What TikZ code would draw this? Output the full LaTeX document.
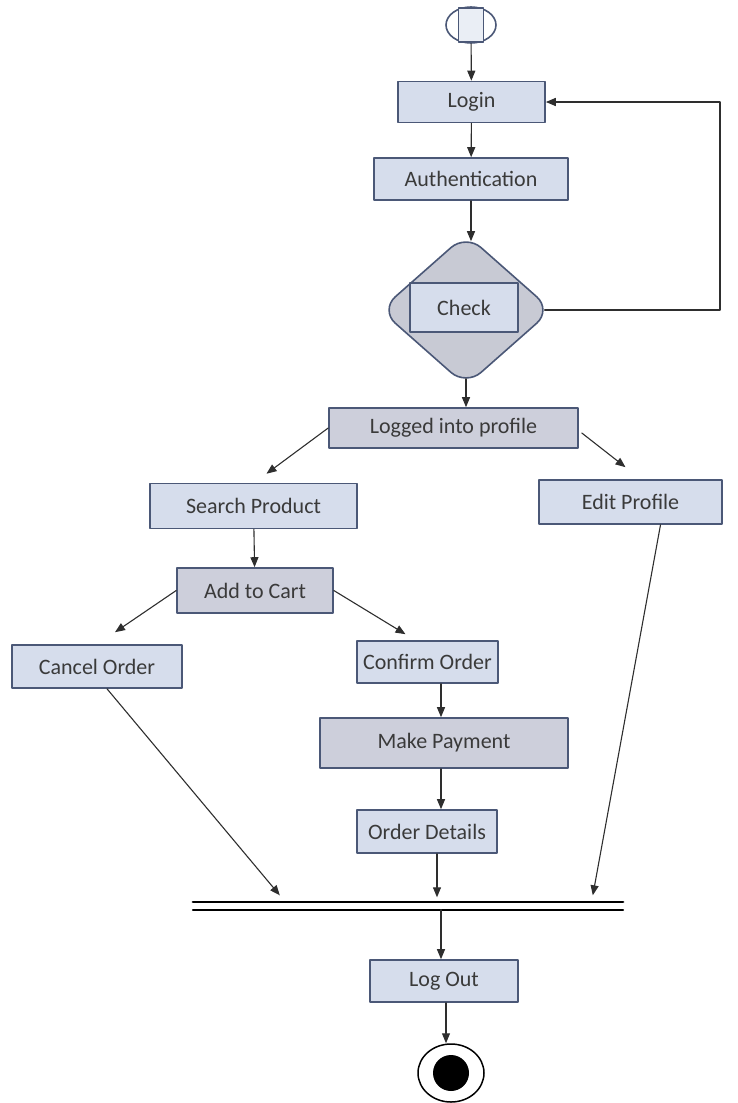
\documentclass[tikz,border=0pt]{standalone}
\usepackage{fontspec}
\setmainfont{Carlito}
\usetikzlibrary{arrows.meta}
\usetikzlibrary{shapes.geometric}
\usetikzlibrary{calc}
\definecolor{boxline}{HTML}{4B5877}
\definecolor{boxfill}{HTML}{D6DDEC}
\definecolor{grayfill}{HTML}{CDCFDB}
\definecolor{diafill}{HTML}{C8CAD4}
\definecolor{txt}{HTML}{3A3A3A}
\definecolor{wire}{HTML}{2E2E2E}

\begin{document}
\begin{tikzpicture}[line cap=round,line join=round,>={Triangle[length=10pt,width=8pt]},x=1pt,y=-1pt,
  act/.style={draw=boxline,line width=1.6pt,fill=boxfill,inner sep=0pt,text=txt,font=\fontsize{22}{26}\selectfont},
  actgray/.style={act,fill=grayfill},
  flow/.style={->,draw=wire,line width=1.1pt}]
\useasboundingbox (0,0) rectangle (738,1103);
% start
\node [ellipse,draw=boxline,line width=1.6pt,fill=white,minimum width=50,minimum height=36,inner sep=0pt] (start) at (471,25) {};
\node [draw=boxline,line width=1.4pt,fill=boxfill!50,minimum width=25,minimum height=34,inner sep=0pt] (startsq) at (471,25) {};
% activities
\node [act,minimum width=147,minimum height=41] (login) at (471.5,102) {Login};
\node [act,minimum width=194,minimum height=42] (auth) at (471,179) {Authentication};
\node [diamond,draw=boxline,line width=1.6pt,fill=diafill,rounded corners=20pt,minimum width=172,minimum height=152,inner sep=0pt] (check) at (466,310) {};
\node [act,minimum width=108,minimum height=49] (checkbox) at (464,307.5) {Check};
\node [actgray,minimum width=249,minimum height=40] (logged) at (453.5,428) {Logged into profile};
\node [act,minimum width=207,minimum height=45] (search) at (253.5,506) {Search Product};
\node [act,minimum width=183,minimum height=44] (edit) at (630.5,502) {Edit Profile};
\node [actgray,minimum width=156,minimum height=45] (cart) at (255,590.5) {Add to Cart};
\node [act,minimum width=170,minimum height=43] (cancel) at (97,666.5) {Cancel Order};
\node [act,minimum width=141,minimum height=42] (confirm) at (427.5,662) {Confirm Order};
\node [actgray,minimum width=248,minimum height=50] (payment) at (444,743) {Make Payment};
\node [act,minimum width=140,minimum height=43] (details) at (427,831.5) {Order Details};
\node [minimum width=430,minimum height=7,inner sep=0pt] (bar) at (408,906) {};
\node [act,minimum width=148,minimum height=42] (logout) at (444,981) {Log Out};
% end
\node [ellipse,draw=black,line width=1.5pt,fill=white,minimum width=66,minimum height=58,inner sep=0pt] (finish) at (451,1073) {};
\node [circle,fill=black,minimum size=36,inner sep=0pt] (finishdot) at (451,1073) {};
\coordinate (mid) at (441,0);
\coordinate (loop) at (720,0);
% join bar
\draw [line width=2.2pt] (bar.north west) -- (bar.north east);
\draw [line width=1.8pt] (bar.south west) -- (bar.south east);
% connectors
\draw [flow] (start) -- (login);
\draw [flow] (login) -- (auth);
\draw [flow] (auth.south) -- ($(auth.south |- check.north)+(0,8)$);
\draw [flow,line width=1.5pt] ($(check.east)+(-8,0)$) -- (check.east -| loop) |- (login.east);
\draw [flow] ($(check.south)+(0,-8)$) -- (check.south |- logged.north);
\draw [flow] (logged.west) -- ($(search.north)+(13,-9)$);
\draw [flow] ($(logged.east)+(3,5)$) -- ($(edit.north)+(-5,-12)$);
\draw [flow] (search) -- (cart);
\draw [flow] (cart.west) -- ($(cancel.north)+(18,-12)$);
\draw [flow] (cart.east) -- ($(confirm.north)+(-22,-6)$);
\draw [flow] (mid |- confirm.south) -- (mid |- payment.north);
\draw [flow] (mid |- payment.south) -- (mid |- details.north);
\draw [flow] ($(mid |- details.south)+(-4,0)$) -- ($(mid |- bar.north)+(-4,-5)$);
\draw [flow] ($(cancel.south)+(10,0)$) -- ($(bar.north west)+(87,-7)$);
\draw [flow] ($(edit.south)+(30,0)$) -- ($(bar.north west)+(400,-7)$);
\draw [flow] (mid |- bar.south) -- (mid |- logout.north);
\draw [flow] ($(mid |- logout.south)+(5,0)$) -- ($(mid |- finish.north)+(5,0)$);
\end{tikzpicture}
\end{document}
